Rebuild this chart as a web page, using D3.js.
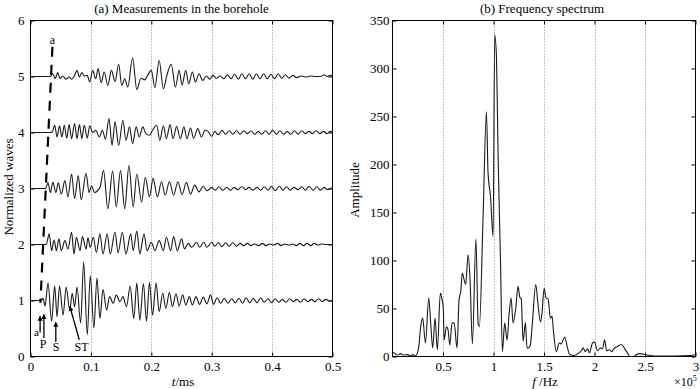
<!DOCTYPE html>
<html><head><meta charset="utf-8">
<script src="https://cdn.jsdelivr.net/npm/d3@7"></script>
<style>
body{margin:0;background:#fff}
svg{display:block}
text{font-family:"Liberation Serif","Times New Roman",serif;fill:#000}
</style>
</head><body>
<svg id="c" width="700" height="389"></svg>
<script>
// ---------------- DATA ----------------
// waveform traces: [time in µs, deviation from baseline in hundredths of a unit]
const traceOffsets = [1, 2, 3, 4, 5];
const trace1 = [[0,0],[18,0],[21,4],[24,-10],[29,31],[35,-37],[40,26],[44,-29],[48,26],[54,-26],[59,24],[65,-17],[69,13],[73,-11],[77,24],[83,-40],[88,68],[94,-61],[99,44],[105,-49],[110,40],[115,-32],[120,20],[126,-17],[131,7],[137,-5],[142,10],[148,-2],[153,7],[159,-11],[165,26],[171,-32],[176,31],[181,-35],[187,30],[192,-37],[197,32],[202,-26],[208,31],[213,-20],[219,13],[224,-14],[230,14],[235,-11],[241,12],[246,-10],[252,10],[257,-8],[263,7],[268,-8],[274,7],[280,-7],[286,6],[292,-6],[298,10],[303,-7],[309,5],[315,-5],[321,4],[327,-5],[333,3],[339,-4],[345,4],[351,-5],[357,5],[363,-4],[369,4],[375,-4],[381,5],[387,-3],[393,3],[399,-4],[405,3],[411,-3],[417,2],[423,-3],[429,3],[435,-2],[441,2],[447,-3],[453,3],[459,-2],[465,2],[471,-2],[477,3],[483,-2],[489,2],[495,-1],[500,0]];
const trace2 = [[0,0],[26,0],[31,19],[35,-11],[39,8],[43,-11],[47,10],[51,-11],[57,7],[62,-8],[68,22],[72,-17],[76,13],[82,-11],[86,14],[92,-8],[95,12],[99,-5],[104,13],[109,-14],[115,19],[120,-17],[127,19],[132,-17],[140,22],[145,-15],[152,22],[158,-17],[166,19],[170,-11],[176,24],[181,-17],[188,19],[193,-11],[200,4],[206,-11],[213,7],[220,-11],[225,13],[232,-11],[237,14],[243,-11],[250,10],[255,-8],[261,2],[267,-5],[275,4],[280,-5],[287,4],[292,-5],[300,4],[305,-3],[311,3],[317,-4],[323,3],[329,-3],[335,3],[341,-3],[347,2],[353,-2],[359,2],[365,-2],[371,1],[378,-2],[384,2],[390,-2],[396,1],[403,-1],[409,2],[415,-2],[421,1],[428,-1],[434,1],[440,-2],[446,2],[452,-2],[458,2],[464,-2],[470,2],[476,-1],[482,1],[490,0],[500,0]];
const trace3 = [[0,0],[25,0],[29,10],[33,-7],[37,11],[42,-7],[46,10],[51,-10],[57,14],[62,-15],[68,26],[73,-18],[79,23],[84,-20],[92,27],[97,-7],[101,5],[106,-7],[115,2],[121,32],[128,-36],[136,31],[142,-33],[149,32],[156,-36],[163,41],[170,-33],[176,26],[184,-24],[190,20],[197,-15],[203,18],[210,-15],[217,12],[223,-12],[230,12],[237,-12],[244,12],[251,-11],[258,11],[265,-10],[272,6],[279,-6],[286,4],[292,-4],[300,2],[306,-3],[312,3],[318,-3],[325,2],[331,-3],[337,2],[343,-2],[350,3],[356,-2],[362,2],[368,-3],[375,2],[381,-3],[387,3],[393,-3],[399,4],[405,-4],[412,4],[418,-3],[424,3],[430,-3],[436,2],[443,-2],[449,3],[455,-3],[461,4],[468,-3],[474,3],[480,-3],[486,2],[492,-2],[498,1],[500,0]];
const trace4 = [[0,0],[33,0],[36,1],[40,13],[44,-8],[48,12],[52,-8],[56,13],[60,-10],[64,14],[68,-11],[73,16],[77,-11],[81,14],[85,-11],[89,13],[94,-10],[98,12],[103,0],[108,4],[114,-8],[119,4],[124,-12],[130,25],[135,-23],[140,19],[146,-23],[153,22],[158,-14],[164,10],[169,-20],[175,10],[180,-8],[186,10],[191,-2],[197,-5],[202,4],[209,13],[214,-14],[220,12],[225,-11],[231,14],[236,-11],[242,11],[248,-11],[254,10],[259,-11],[265,8],[270,-10],[277,7],[283,-8],[289,4],[294,2],[300,-7],[305,2],[311,-4],[317,4],[323,-3],[329,3],[335,-3],[341,3],[347,-3],[353,3],[359,-2],[365,3],[371,-3],[377,2],[383,-3],[389,3],[395,-3],[401,4],[407,-3],[413,3],[419,-3],[425,2],[431,-3],[437,3],[443,-3],[449,3],[455,-2],[461,2],[467,-2],[473,3],[479,-2],[485,2],[491,-2],[496,2],[500,0]];
const trace5 = [[0,0],[33,0],[37,5],[41,-4],[45,7],[49,-4],[53,1],[59,-5],[64,-1],[68,-5],[73,2],[77,11],[81,-1],[85,7],[89,1],[94,2],[98,-10],[103,11],[108,-4],[112,14],[117,-11],[122,8],[128,-16],[134,11],[140,-9],[146,22],[151,-16],[156,-4],[161,-19],[169,33],[176,-23],[183,-3],[189,-6],[194,2],[200,11],[206,-20],[213,29],[220,-22],[226,3],[233,22],[240,-19],[246,11],[251,-15],[257,11],[262,-13],[268,8],[273,-10],[279,5],[285,-7],[291,1],[297,-5],[302,2],[308,-3],[314,1],[320,-4],[326,3],[332,-4],[338,4],[344,-5],[350,5],[356,-4],[362,5],[368,-5],[374,5],[380,-4],[386,5],[392,-4],[398,4],[404,-4],[410,5],[416,-3],[422,3],[428,-3],[434,2],[441,-2],[448,1],[456,-1],[464,1],[472,0],[480,0],[486,3],[491,0],[496,2],[500,0]];
const traces = [trace1, trace2, trace3, trace4, trace5];

// spectrum: [frequency in units of 1e5 Hz, amplitude]
const spectrum = [[0,4],[0.02,3.5],[0.05,1.5],[0.08,3],[0.11,1.5],[0.15,2],[0.18,0.5],[0.2,2],[0.225,0.5],[0.246,3.5],[0.26,10],[0.279,31],[0.299,40],[0.326,14],[0.359,61],[0.378,35],[0.398,9],[0.421,40],[0.444,7],[0.474,66],[0.49,60],[0.504,49],[0.51,17],[0.534,31],[0.55,28],[0.567,12],[0.59,35],[0.61,35],[0.639,9],[0.659,59],[0.676,68],[0.692,87],[0.709,80],[0.725,75],[0.748,106],[0.768,80],[0.791,13],[0.826,122],[0.848,34],[0.86,31],[0.896,142],[0.93,255],[0.946,191],[0.97,167],[0.996,125],[1.012,335],[1.03,310],[1.045,212],[1.069,101],[1.088,5],[1.111,35],[1.134,17],[1.155,45],[1.174,61],[1.194,35],[1.22,50],[1.243,73],[1.26,62],[1.275,60],[1.293,16],[1.316,35],[1.332,9],[1.35,9],[1.365,12],[1.385,35],[1.418,75],[1.44,55],[1.465,36],[1.48,45],[1.501,71],[1.52,61],[1.54,60],[1.564,40],[1.58,42],[1.593,27],[1.623,5],[1.65,14],[1.67,13],[1.69,17.5],[1.706,20],[1.73,10],[1.755,2],[1.8,1],[1.854,4.5],[1.87,6],[1.887,9],[1.91,5],[1.93,8],[1.95,4],[1.98,14],[2.0,15],[2.03,6],[2.06,9],[2.08,8],[2.1,17.5],[2.12,6],[2.15,7],[2.17,5],[2.19,8],[2.22,10],[2.267,12.5],[2.3,8],[2.33,3],[2.35,0],[2.39,0],[2.415,2],[2.45,3],[2.5,2],[2.6,0.5],[2.8,0.5],[2.95,1],[3.0,2]];

// ticks
const waveXTicks = [0, 0.1, 0.2, 0.3, 0.4, 0.5];
const waveXLabels = ["0", "0.1", "0.2", "0.3", "0.4", "0.5"];
const waveYTicks = [0, 1, 2, 3, 4, 5, 6];
const waveYLabels = ["0", "1", "2", "3", "4", "5", "6"];
const waveGrid = [0.1, 0.2, 0.3, 0.4];
const specXTicks = [0.5, 1, 1.5, 2, 2.5, 3];
const specXLabels = ["0.5", "1", "1.5", "2", "2.5", "3"];
const specYTicks = [0, 50, 100, 150, 200, 250, 300, 350];
const specYLabels = ["0", "50", "100", "150", "200", "250", "300", "350"];
const specGrid = [0.5, 1, 1.5, 2, 2.5];

// annotations (data coordinates of panel a: [t ms, normalized value])
const dashedA = [[0.0363, 5.53], [0.0164, 0.96]];
const arrows = [
  {from: [0.0159, 0.43], to: [0.0159, 0.72]},
  {from: [0.0222, 0.33], to: [0.0222, 0.75]},
  {from: [0.0419, 0.26], to: [0.0419, 0.61]},
  {from: [0.0808, 0.30], to: [0.0652, 0.89]}
];
const annoLabels = [
  {text: "a", at: [0.0364, 5.58], size: 12},
  {text: "a", at: [0.0098, 0.36], size: 11},
  {text: "P", at: [0.0210, 0.155], size: 12},
  {text: "S", at: [0.0424, 0.09], size: 12},
  {text: "ST", at: [0.0844, 0.09], size: 12}
];

// ---------------- DRAW ----------------
const svg = d3.select("#c");
const FONT = '"Liberation Serif","Times New Roman",serif';

svg.append("defs").append("marker")
  .attr("id", "ah").attr("viewBox", "0 0 10 10").attr("refX", 9).attr("refY", 5)
  .attr("markerWidth", 5).attr("markerHeight", 6).attr("markerUnits", "userSpaceOnUse")
  .attr("orient", "auto")
  .append("path").attr("d", "M0,0 L10,5 L0,10 z").attr("fill", "#000");

function panel(xs, ys, xt, xl, yt, yl, ypad, grid) {
  const [x0, x1] = xs.range();
  const [y1, y0] = ys.range();
  const g = svg.append("g");
  g.selectAll("line.grid").data(grid).join("line")
    .attr("x1", d => Math.round(xs(d)) + 0.5).attr("x2", d => Math.round(xs(d)) + 0.5)
    .attr("y1", y0).attr("y2", y1)
    .attr("stroke", "#666").attr("stroke-width", 0.8).attr("stroke-dasharray", "1,2");
  const style = sel => {
    sel.select(".domain").remove();
    sel.attr("font-family", FONT).attr("font-size", 13);
    sel.selectAll("text").style("font-family", FONT).style("font-size", "13px").attr("fill", "#000");
    sel.selectAll("line").attr("stroke", "#000");
  };
  g.append("g").attr("transform", `translate(0,${y1})`)
    .call(d3.axisBottom(xs).tickValues(xt).tickFormat((d, i) => xl[i]).tickSize(-4).tickPadding(5)).call(style);
  g.append("g").attr("transform", `translate(0,${y0})`)
    .call(d3.axisTop(xs).tickValues(xt).tickFormat(() => "").tickSize(-4)).call(style);
  g.append("g").attr("transform", `translate(${x0},0)`)
    .call(d3.axisLeft(ys).tickValues(yt).tickFormat((d, i) => yl[i]).tickSize(-4).tickPadding(ypad)).call(style);
  g.append("g").attr("transform", `translate(${x1},0)`)
    .call(d3.axisRight(ys).tickValues(yt).tickFormat(() => "").tickSize(-4)).call(style);
  g.append("rect").attr("x", x0).attr("y", y0).attr("width", x1 - x0).attr("height", y1 - y0)
    .attr("fill", "none").attr("stroke", "#000").attr("stroke-width", 1);
  return g;
}

// Panel (a)
const wx = d3.scaleLinear([0, 0.5], [30.5, 332.5]);
const wy = d3.scaleLinear([0, 6], [356.5, 20.5]);
const ga = panel(wx, wy, waveXTicks, waveXLabels, waveYTicks, waveYLabels, 6, waveGrid);

traces.forEach((tr, i) => {
  const off = traceOffsets[i];
  const line = d3.line().x(d => wx(d[0] / 1000)).y(d => wy(off + d[1] / 100)).curve(d3.curveMonotoneX);
  ga.append("path").attr("d", line(tr)).attr("fill", "none").attr("stroke", "#1a1a1a").attr("stroke-width", 1.1);
});

ga.append("line")
  .attr("x1", wx(dashedA[0][0])).attr("y1", wy(dashedA[0][1]))
  .attr("x2", wx(dashedA[1][0])).attr("y2", wy(dashedA[1][1]))
  .attr("stroke", "#000").attr("stroke-width", 2.2).attr("stroke-dasharray", "10,8");

arrows.forEach(a => {
  ga.append("line")
    .attr("x1", wx(a.from[0])).attr("y1", wy(a.from[1]))
    .attr("x2", wx(a.to[0])).attr("y2", wy(a.to[1]))
    .attr("stroke", "#000").attr("stroke-width", 1.3).attr("marker-end", "url(#ah)");
});
annoLabels.forEach(l => {
  ga.append("text").attr("x", wx(l.at[0])).attr("y", wy(l.at[1]))
    .attr("text-anchor", "middle").attr("font-size", l.size).text(l.text);
});

// Panel (b)
const sx = d3.scaleLinear([0, 3], [392.5, 695.5]);
const sy = d3.scaleLinear([0, 350], [356.5, 20.5]);
const gb = panel(sx, sy, specXTicks, specXLabels, specYTicks, specYLabels, 3, specGrid);
const sline = d3.line().x(d => sx(d[0])).y(d => sy(d[1])).curve(d3.curveMonotoneX);
gb.append("path").attr("d", sline(spectrum)).attr("fill", "none").attr("stroke", "#1a1a1a").attr("stroke-width", 1.1);

// Titles and axis labels
svg.append("text").attr("x", 181.5).attr("y", 13).attr("text-anchor", "middle").attr("font-size", 13).text("(a) Measurements in the borehole");
svg.append("text").attr("x", 542).attr("y", 13).attr("text-anchor", "middle").attr("font-size", 13).text("(b) Frequency spectrum");

const tl = svg.append("text").attr("x", 183).attr("y", 386).attr("text-anchor", "middle").attr("font-size", 13);
tl.append("tspan").attr("font-style", "italic").text("t");
tl.append("tspan").text("/ms");
const fl = svg.append("text").attr("x", 545).attr("y", 386).attr("text-anchor", "middle").attr("font-size", 13);
fl.append("tspan").attr("font-style", "italic").text("f");
fl.append("tspan").text(" /Hz");

svg.append("text").attr("transform", "translate(12.5,187) rotate(-90)").attr("text-anchor", "middle").attr("font-size", 13).text("Normalized waves");
svg.append("text").attr("transform", "translate(359,190) rotate(-90)").attr("text-anchor", "middle").attr("font-size", 13).text("Amplitude");

const ex = svg.append("text").attr("x", 674).attr("y", 386).attr("font-size", 12);
ex.append("tspan").text("×10");
ex.append("tspan").attr("font-size", 8).attr("dy", -5).text("5");
</script>
</body></html>
